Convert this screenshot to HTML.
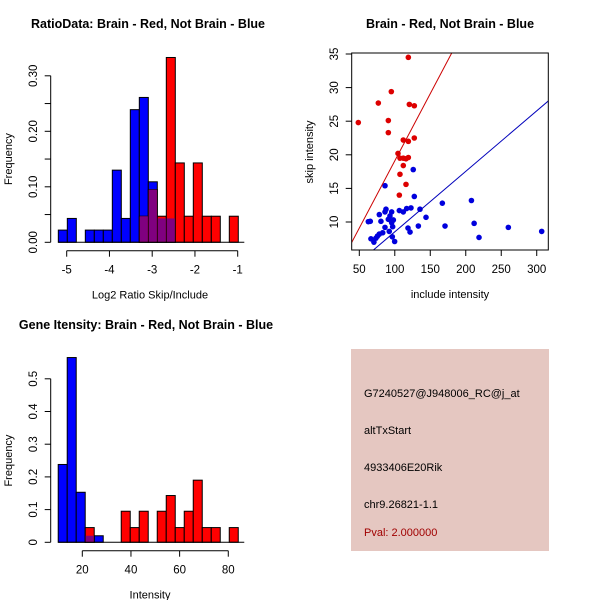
<!DOCTYPE html>
<html><head><meta charset="utf-8"><style>
body{margin:0;background:#fff}
svg{display:block;font-family:"Liberation Sans",sans-serif}
</style></head><body>
<svg id="s" width="600" height="600" xmlns="http://www.w3.org/2000/svg">
<rect width="600" height="600" fill="#fff"/>
<text x="148" y="28" text-anchor="middle" font-size="12.5" font-weight="bold">RatioData: Brain - Red, Not Brain - Blue</text>
<text x="450" y="28" text-anchor="middle" font-size="12.5" font-weight="bold">Brain - Red, Not Brain - Blue</text>
<text x="146" y="329" text-anchor="middle" font-size="12.5" font-weight="bold">Gene Itensity: Brain - Red, Not Brain - Blue</text>
<g id="g1"></g>
<g id="g2"></g>
<g id="g3"></g>
<g>
<rect x="351" y="349" width="198" height="202" fill="#e5c7c1"/>
<text x="364" y="397" font-size="11">G7240527@J948006_RC@j_at</text>
<text x="364" y="434" font-size="11">altTxStart</text>
<text x="364" y="471" font-size="11">4933406E20Rik</text>
<text x="364" y="508" font-size="11">chr9.26821-1.1</text>
<text x="364" y="536" font-size="11" fill="#a00000">Pval: 2.000000</text>
</g>
</svg>
<script>
// Ratio histogram data
const ratioBinStart = -5.196, ratioBinWidth = 0.2105;
const ratioBlue = [0.022,0.043,0,0.022,0.022,0.022,0.13,0.043,0.239,0.261,0.109,0.043,0.043,0,0,0,0,0,0,0];
const ratioRed  = [0,0,0,0,0,0,0,0,0,0.047,0.095,0.047,0.333,0.143,0.047,0.143,0.047,0.047,0,0.047];
const ratioXTicks = [-5,-4,-3,-2,-1];
const ratioYTicks = [0,0.05,0.1,0.15,0.2,0.25,0.3];
const ratioYLabels = ["0.00","","0.10","","0.20","","0.30"];
// Gene histogram data
const geneBinStart = 10.1, geneBinWidth = 3.7;
const geneBlue = [0.238,0.565,0.153,0.02,0.02,0,0,0,0,0,0,0,0,0,0,0,0,0,0,0];
const geneRed  = [0,0,0,0.045,0,0,0,0.095,0.045,0.095,0,0.095,0.143,0.045,0.095,0.19,0.045,0.045,0,0.045];
const geneXTicks = [20,40,60,80];
const geneYTicks = [0,0.1,0.2,0.3,0.4,0.5];
// Scatter data
const redX = [48.6,76.8,90.9,90.9,95.1,119.1,120.5,127.5,127.5,112,119.1,104.5,107.3,112,115.8,119.1,112,107.3,115.8,106.4];
const redY = [24.8,27.7,25.1,23.3,29.4,34.5,27.5,27.3,22.5,22.2,22.0,20.2,19.5,19.5,19.4,19.6,18.4,17.1,15.6,14.0];
const blueX = [126,86.2,127.5,208,167,78.2,87.6,86.2,95.6,106.4,112,116.7,122.8,135.5,90.9,93.2,98,80.5,62.7,65.5,144,95.6,97,86.2,133.2,170.8,211.8,260,307,92.2,118.6,121.5,83,78.2,75.6,73.5,66.4,70.6,96.5,99.8,218.7];
const blueY = [17.8,15.4,13.8,13.2,12.8,11.1,11.9,11.5,11.5,11.7,11.5,12.0,12.1,11.9,10.4,10.9,10.3,10.1,10.05,10.1,10.7,9.9,9.3,9.2,9.4,9.4,9.8,9.2,8.6,8.6,9.1,8.5,8.4,8.2,7.9,7.6,7.5,7.0,7.8,7.1,7.7];
const lineRed = [-0.9,0.2];   // intercept, slope
const lineBlue = [-0.46,0.09];
const scXTicks = [50,100,150,200,250,300];
const scYTicks = [10,15,20,25,30,35];

const NS="http://www.w3.org/2000/svg";
function mk(p,t,a){const e=document.createElementNS(NS,t);for(const k in a)e.setAttribute(k,a[k]);p.appendChild(e);return e;}

function hist(g,start,w,blue,red,xs,ys,ylabels,X,Y,xLabel,xAxisY,xr){
  const y0=Y(0);
  blue.forEach((v,i)=>{ if(v<=0) return;
    const r=mk(g,'rect',{x:X(start+i*w),y:Y(v),width:X(start+(i+1)*w)-X(start+i*w),height:y0-Y(v),fill:'#0000ff',stroke:'#000','stroke-width':1});
    
    
  });
  red.forEach((v,i)=>{ if(v<=0) return;
    const r=mk(g,'rect',{x:X(start+i*w),y:Y(v),width:X(start+(i+1)*w)-X(start+i*w),height:y0-Y(v),fill:'#ff0000',stroke:'#000','stroke-width':1});
    
    
  });
  red.forEach((v,i)=>{ const m=Math.min(v,blue[i]); if(m<=0) return;
    const r=mk(g,'rect',{x:X(start+i*w)+0.5,y:Y(m),width:X(start+(i+1)*w)-X(start+i*w)-1,height:y0-Y(m)-0.5,fill:'#800080'});
    
    
  });
  mk(g,'line',{x1:X(start),x2:X(start+blue.length*w)+6,y1:y0,y2:y0,stroke:'#000'});
  mk(g,'line',{x1:X(xs[0]),x2:X(xs[xs.length-1]),y1:xAxisY,y2:xAxisY,stroke:'#000'});
  xs.forEach(v=>{mk(g,'line',{x1:X(v),x2:X(v),y1:xAxisY,y2:xAxisY+6,stroke:'#000'});
    const t=mk(g,'text',{x:X(v),y:xAxisY+23,'text-anchor':'middle','font-size':11.5});t.textContent=v;
    
    });
  const ax=50.7;
  mk(g,'line',{x1:ax,x2:ax,y1:Y(ys[0]),y2:Y(ys[ys.length-1]),stroke:'#000'});
  ys.forEach((v,i)=>{mk(g,'line',{x1:ax-6,x2:ax,y1:Y(v),y2:Y(v),stroke:'#000'});
    const lab=ylabels?ylabels[i]:String(v); if(!lab) return;
    const t=mk(g,'text',{x:0,y:0,'text-anchor':'middle','font-size':11.5,transform:`translate(37,${Y(v)}) rotate(-90)`});t.textContent=lab;
    
    });
  const yt=mk(g,'text',{'text-anchor':'middle','font-size':11,transform:`translate(12,${(Y(ys[0])+Y(ys[ys.length-1]))/2}) rotate(-90)`});yt.textContent='Frequency';
  
  
  const xt=mk(g,'text',{x:xr,y:xAxisY+48,'text-anchor':'middle','font-size':11});xt.textContent=xLabel;
  
  
}
const g1=document.getElementById('g1');
hist(g1,ratioBinStart,ratioBinWidth,ratioBlue,ratioRed,ratioXTicks,ratioYTicks,ratioYLabels,
  v=>66.7+(v+5)*42.75, v=>242.3-v*555, 'Log2 Ratio Skip/Include',250.7,150);
const g3=document.getElementById('g3');
hist(g3,geneBinStart,geneBinWidth,geneBlue,geneRed,geneXTicks,geneYTicks,null,
  v=>82.3+(v-20)*2.433, v=>542.3-v*327, 'Intensity',550.7,150);

const g2=document.getElementById('g2');
const SX=v=>359.3+(v-50)*0.7097, SY=v=>222-(v-10)*6.72;
const L=351.7,R=548.3,T=53,B=250;
const defs=mk(g2,'clipPath',{id:'cp'});mk(defs,'rect',{x:L,y:T,width:R-L,height:B-T});
blueX.forEach((x,i)=>{const c=mk(g2,'circle',{cx:SX(x),cy:SY(blueY[i]),r:2.8,fill:'#0000dd'});
  
  });
redX.forEach((x,i)=>{const c=mk(g2,'circle',{cx:SX(x),cy:SY(redY[i]),r:2.8,fill:'#dd0000'});
  
  });
[[lineRed,'#cc0000','red-fit-line'],[lineBlue,'#0000bb','blue-fit-line']].forEach(([ln,c,n])=>{
  const x1=0,x2=400;const l=mk(g2,'line',{x1:SX(x1),y1:SY(ln[0]+ln[1]*x1),x2:SX(x2),y2:SY(ln[0]+ln[1]*x2),stroke:c,'clip-path':'url(#cp)'});
  
  });
mk(g2,'rect',{x:L,y:T,width:R-L,height:B-T,fill:'none',stroke:'#000'});
scXTicks.forEach(v=>{mk(g2,'line',{x1:SX(v),x2:SX(v),y1:B,y2:B+6,stroke:'#000'});
  const t=mk(g2,'text',{x:SX(v),y:B+23,'text-anchor':'middle','font-size':11.5});t.textContent=v;
  
  });
scYTicks.forEach(v=>{mk(g2,'line',{x1:L-6,x2:L,y1:SY(v),y2:SY(v),stroke:'#000'});
  const t=mk(g2,'text',{'text-anchor':'middle','font-size':11.5,transform:`translate(338,${SY(v)}) rotate(-90)`});t.textContent=v;
  
  });
let t=mk(g2,'text',{x:450,y:298,'text-anchor':'middle','font-size':11});t.textContent='include intensity';


t=mk(g2,'text',{'text-anchor':'middle','font-size':11,transform:'translate(313,152) rotate(-90)'});t.textContent='skip intensity';


</script>
</body></html>
